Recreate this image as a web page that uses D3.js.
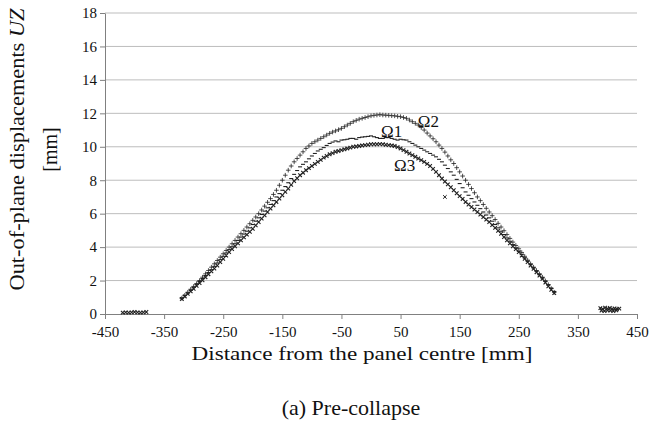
<!DOCTYPE html>
<html>
<head>
<meta charset="utf-8">
<script src="https://cdn.jsdelivr.net/npm/d3@7"></script>
<style>
  body { margin: 0; background: #fff; }
  svg text { font-family: "Liberation Serif", "DejaVu Serif", serif; fill: #111; }
  .grid line { stroke: #bdbdbd; stroke-width: 1; }
  .axis path, .axis line { stroke: #808080; stroke-width: 1; }
</style>
</head>
<body>
<div id="chart"></div>
<script>
// ====== Out-of-plane displacements, pre-collapse ======

// Distance from the panel centre [mm], shared by the three profiles
const distances = [
  -320,-315,-310,-305,-300,-295,-290,-285,-280,-275,-270,-265,-260,-255,-250,-245,
  -240,-235,-230,-225,-220,-215,-210,-205,-200,-195,-190,-185,-180,-175,-170,-165,
  -160,-155,-150,-145,-140,-135,-130,-125,-120,-115,-110,-105,-100,-95,-90,-85,
  -80,-75,-70,-65,-60,-55,-50,-45,-40,-35,-30,-25,-20,-15,-10,-5,
  0,5,10,15,20,25,30,35,40,45,50,55,60,65,70,75,
  80,85,90,95,100,105,110,115,120,125,130,135,140,145,150,155,
  160,165,170,175,180,185,190,195,200,205,210,215,220,225,230,235,
  240,245,250,255,260,265,270,275,280,285,290,295,300,305,310];

// UZ [mm]
const omega1 = [
  0.95,1.1,1.25,1.42,1.6,1.78,1.95,2.12,2.3,2.48,2.65,2.85,3.05,3.25,3.45,3.65,
  3.85,4.02,4.2,4.4,4.6,4.78,4.95,5.15,5.35,5.55,5.75,5.95,6.15,6.35,6.55,6.78,
  7.0,7.2,7.4,7.62,7.85,8.1,8.35,8.58,8.8,8.95,9.1,9.28,9.45,9.6,9.75,9.85,
  9.95,10.08,10.2,10.28,10.35,10.3,10.4,10.42,10.45,10.5,10.5,10.45,10.55,10.58,10.6,10.62,
  10.65,10.6,10.55,10.5,10.5,10.55,10.55,10.5,10.45,10.4,10.45,10.42,10.4,10.3,10.2,10.1,
  10.0,9.9,9.8,9.7,9.6,9.5,9.4,9.25,9.1,8.9,8.7,8.5,8.3,8.05,7.8,7.55,
  7.3,7.1,6.9,6.7,6.5,6.3,6.1,5.92,5.75,5.55,5.35,5.15,4.95,4.75,4.55,4.35,
  4.15,3.95,3.75,3.55,3.35,3.15,2.95,2.75,2.55,2.35,2.15,1.95,1.75,1.55,1.35];

const omega2 = [
  0.95,1.12,1.3,1.48,1.65,1.82,2.0,2.2,2.4,2.6,2.8,3.0,3.2,3.4,3.6,3.8,
  4.0,4.2,4.4,4.6,4.8,5.0,5.2,5.4,5.6,5.8,6.0,6.22,6.45,6.68,6.9,7.15,
  7.4,7.7,8.0,8.3,8.6,8.85,9.1,9.3,9.5,9.7,9.9,10.05,10.2,10.3,10.4,10.5,
  10.6,10.7,10.8,10.88,10.95,11.02,11.1,11.2,11.3,11.4,11.5,11.58,11.65,11.7,11.75,11.8,
  11.85,11.88,11.9,11.92,11.9,11.89,11.88,11.86,11.85,11.82,11.8,11.75,11.7,11.6,11.5,11.4,
  11.3,11.15,11.0,10.82,10.65,10.48,10.3,10.1,9.9,9.68,9.45,9.22,9.0,8.75,8.5,8.25,
  8.0,7.75,7.5,7.25,7.0,6.78,6.55,6.32,6.1,5.88,5.65,5.42,5.2,4.98,4.75,4.52,
  4.3,4.1,3.9,3.68,3.45,3.22,3.0,2.8,2.6,2.4,2.2,1.98,1.75,1.52,1.3];

const omega3 = [
  0.9,1.05,1.2,1.35,1.5,1.68,1.85,2.02,2.2,2.38,2.55,2.72,2.9,3.1,3.3,3.5,
  3.7,3.88,4.05,4.22,4.4,4.58,4.75,4.92,5.1,5.3,5.5,5.7,5.9,6.1,6.3,6.5,
  6.7,6.9,7.1,7.3,7.5,7.72,7.95,8.12,8.3,8.45,8.6,8.72,8.85,8.98,9.1,9.22,
  9.35,9.45,9.55,9.62,9.7,9.75,9.8,9.85,9.9,9.95,10.0,10.02,10.05,10.08,10.1,10.12,
  10.15,10.15,10.15,10.16,10.15,10.12,10.1,10.08,10.05,9.98,9.9,9.8,9.7,9.6,9.5,9.4,
  9.3,9.2,9.1,8.98,8.85,8.68,8.5,8.3,8.1,7.92,7.75,7.58,7.4,7.22,7.05,6.88,
  6.7,6.55,6.4,6.25,6.1,5.95,5.8,5.65,5.5,5.32,5.15,4.98,4.8,4.6,4.4,4.22,
  4.05,3.88,3.7,3.5,3.3,3.1,2.9,2.7,2.5,2.3,2.1,1.88,1.65,1.45,1.25];

// readings at the supports and one stray point
const supportX = [-420,-415,-410,-405,-400,-395,-390,-385,-380, 388,392,396,400,404,408,412,416,420, 390,395,400,405,410,415];
const supportY = [0.08,0.1,0.08,0.1,0.12,0.1,0.08,0.1,0.12, 0.35,0.3,0.38,0.32,0.36,0.3,0.34,0.3,0.32, 0.2,0.18,0.22,0.2,0.18,0.22];
const strayX = [125];
const strayY = [7.0];

const xTicks = [-450,-350,-250,-150,-50,50,150,250,350,450];
const yTicks = [0,2,4,6,8,10,12,14,16,18];

const seriesLabels = [
  {name: "Ω1", x: 35, y: 10.95},
  {name: "Ω2", x: 97, y: 11.55},
  {name: "Ω3", x: 57, y: 8.9}
];

function buildChart () {
    let margin = {top: 13, right: 12, bottom: 107, left: 105},
        width = 649 - margin.left - margin.right,
        height = 421 - margin.top - margin.bottom;

    let x = d3.scaleLinear().domain([-450, 450]).range([0, width]);
    let y = d3.scaleLinear().domain([0, 18]).range([height, 0]);

    let svg = d3.select("#chart").append("svg")
                .attr("width", width + margin.left + margin.right)
                .attr("height", height + margin.top + margin.bottom)
                .append("g")
                .attr("transform", "translate(" + margin.left + "," + margin.top + ")");

    // horizontal gridlines
    svg.append("g")
        .attr("class", "grid")
        .selectAll("line")
        .data(yTicks.filter(d => d > 0))
        .enter().append("line")
        .attr("x1", 0).attr("x2", width)
        .attr("y1", d => y(d)).attr("y2", d => y(d));

    let yAxis = d3.axisLeft(y).tickValues(yTicks).tickSize(5).tickPadding(3).tickSizeOuter(0);
    let gy = svg.append("g").attr("class", "axis").call(yAxis);
    gy.selectAll("text").style("font-size", "15px");

    let xAxis = d3.axisBottom(x).tickValues(xTicks).tickSize(5).tickPadding(7).tickSizeOuter(0)
                  .tickFormat(d3.format("d"));
    let gx = svg.append("g")
        .attr("class", "axis")
        .attr("transform", "translate(0," + height + ")")
        .call(xAxis);
    gx.selectAll("text").style("font-size", "15px").text(d => String(d).replace("\u2212", "-"));

    // markers
    let plus = "M-2.3,0H2.3M0,-2.3V2.3";
    let cross = "M-1.8,-1.8L1.8,1.8M-1.8,1.8L1.8,-1.8";
    let dash = "M-2,0H2";

    function drawSeries (xs, ys, shape, strokeWidth, cls) {
        svg.append("g")
            .attr("class", cls)
            .selectAll("path")
            .data(xs.map((d, i) => [d, ys[i]]))
            .enter().append("path")
            .attr("transform", d => "translate(" + x(d[0]) + "," + y(d[1]) + ")")
            .attr("d", shape)
            .style("fill", "none")
            .style("stroke", "#222")
            .style("stroke-width", strokeWidth);
    }

    drawSeries(distances, omega3, cross, 1.1, "omega3");
    drawSeries(distances, omega1, dash, 1.1, "omega1");
    drawSeries(distances, omega2, plus, 0.8, "omega2");
    drawSeries(supportX, supportY, cross, 1.1, "supports");
    drawSeries(strayX, strayY, cross, 1, "stray");

    svg.selectAll(".series-label")
        .data(seriesLabels)
        .enter().append("text")
        .attr("class", "series-label")
        .attr("x", d => x(d.x))
        .attr("y", d => y(d.y))
        .attr("dy", ".35em")
        .style("text-anchor", "middle")
        .style("font-size", "17px")
        .text(d => d.name);

    // axis titles
    svg.append("text")
        .attr("transform", "rotate(-90)")
        .attr("x", -(height / 2) + 14)
        .attr("y", -margin.left + 24)
        .attr("textLength", 282)
        .attr("lengthAdjust", "spacingAndGlyphs")
        .style("text-anchor", "middle")
        .style("font-size", "20px")
        .html("Out-of-plane displacements <tspan font-style='italic'>UZ</tspan>");

    svg.append("text")
        .attr("transform", "rotate(-90)")
        .attr("x", -(height / 2) + 14)
        .attr("y", -margin.left + 57)
        .style("text-anchor", "middle")
        .style("font-size", "20px")
        .text("[mm]");

    svg.append("text")
        .attr("x", 362 - margin.left)
        .attr("y", height + 46)
        .attr("textLength", 341)
        .attr("lengthAdjust", "spacingAndGlyphs")
        .style("text-anchor", "middle")
        .style("font-size", "19px")
        .text("Distance from the panel centre [mm]");

    svg.append("text")
        .attr("x", 351 - margin.left)
        .attr("y", height + 101)
        .style("text-anchor", "middle")
        .style("font-size", "22px")
        .text("(a) Pre-collapse");
}

buildChart();
</script>
</body>
</html>
